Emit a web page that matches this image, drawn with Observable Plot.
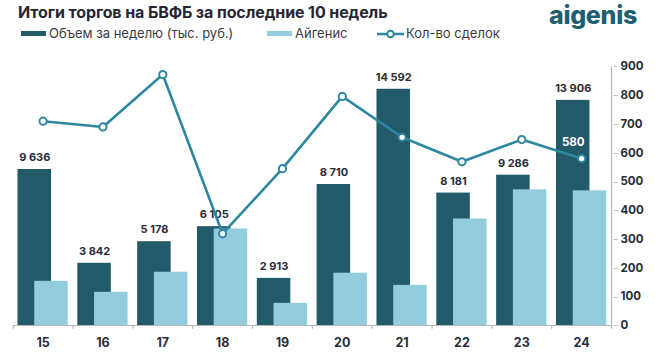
<!DOCTYPE html>
<html>
<head>
<meta charset="utf-8">
<script src="https://cdn.jsdelivr.net/npm/d3@7"></script>
<script src="https://cdn.jsdelivr.net/npm/@observablehq/plot@0.6"></script>
<style>
  html, body { margin: 0; padding: 0; background: #fff; }
  #wrap { position: relative; width: 655px; height: 364px; font-family: Inter, "Open Sans", sans-serif; }
  #head { position: relative; width: 655px; height: 45px; }
  .title { position: absolute; left: 18px; top: 3px; font-size: 16px; font-weight: 700; color: #262633; line-height: 18px; white-space: nowrap; letter-spacing: -0.1px; }
  .logo { position: absolute; left: 549px; top: 1px; font-size: 25px; font-weight: 800; color: #1e5f70; line-height: 28px; letter-spacing: -0.3px; }
  .item { position: absolute; top: 26px; display: flex; align-items: center; font-size: 13px; color: #3a3a44; line-height: 15px; white-space: nowrap; }
  .sw { display: inline-block; width: 25px; height: 5px; margin-right: 3px; }
  #chart { position: absolute; left: 0; top: 45px; }
</style>
</head>
<body>
<div id="wrap">
  <div id="head"></div>
  <div id="chart"></div>
</div>
<script>
const weeks = ["15","16","17","18","19","20","21","22","23","24"];
const volume = [9636, 3842, 5178, 6105, 2913, 8710, 14592, 8181, 9286, 13906];
const aigenis = [2730, 2050, 3290, 5960, 1370, 3230, 2480, 6580, 8380, 8320];
const deals = [710, 690, 872, 319, 545, 796, 654, 569, 646, 580];
const rightTicks = [0, 100, 200, 300, 400, 500, 600, 700, 800, 900];
const title = "Итоги торгов на БВФБ за последние 10 недель";
const seriesNames = ["Объем за неделю (тыс. руб.)", "Айгенис", "Кол-во сделок"];
const logoText = "aigenis";

const cDark = "#225a69", cLight = "#93cddd", cLine = "#2e87a1";
const leftMax = 16000, rightMax = 900;
const k = rightMax / leftMax;

const data = weeks.map((w, i) => ({week: w, vol: volume[i], aig: aigenis[i], deals: deals[i]}));
const lastWeek = weeks[weeks.length - 1];

// header
const head = document.getElementById("head");
head.innerHTML = `
  <div class="title">${title}</div>
  <div class="logo">${logoText}</div>
  <div class="item" style="left:21px"><span class="sw" style="background:${cDark}"></span>${seriesNames[0]}</div>
  <div class="item" style="left:267px"><span class="sw" style="background:${cLight}"></span>${seriesNames[1]}</div>
  <div class="item" style="left:377px"><svg width="27" height="10" style="margin-right:2px"><line x1="0" y1="5" x2="27" y2="5" stroke="${cLine}" stroke-width="2.5"/><circle cx="13.5" cy="5" r="3.3" fill="#fff" stroke="${cLine}" stroke-width="2"/></svg>${seriesNames[2]}</div>`;

const W = 655, H = 319;
const mL = 12.7, mR = 44, mT = 21, mB = 39;
const step = (W - mL - mR) / weeks.length;
const off = step * 0.14;
const fmt = v => d3.format(",")(v).replace(/,/g, " ");

const chart = Plot.plot({
  width: W, height: H,
  marginLeft: mL, marginRight: mR, marginTop: mT, marginBottom: mB,
  style: {fontFamily: "Inter, 'Open Sans', sans-serif", overflow: "visible"},
  x: {domain: weeks, paddingInner: 0.44, paddingOuter: 0.22, round: false, axis: null},
  y: {domain: [0, rightMax], axis: null},
  marks: [
    Plot.barY(data, {x: "week", y: d => d.vol * k, fill: cDark, dx: -off}),
    Plot.barY(data, {x: "week", y: d => d.aig * k, fill: cLight, dx: off}),
    Plot.ruleY([0], {stroke: "#b5b5b5", strokeWidth: 1.2}),
    Plot.link(weeks, {x1: d => d, x2: d => d, dx: -step / 2, y1: () => 0, y2: () => -11, stroke: "#b5b5b5", strokeWidth: 1.2}),
    Plot.link([lastWeek], {x1: d => d, x2: d => d, dx: step / 2, y1: () => -11, y2: () => rightMax, stroke: "#b5b5b5", strokeWidth: 1.2}),
    Plot.text(rightTicks, {y: d => d, x: () => lastWeek, dx: step / 2 + 2, text: () => "–", fontSize: 9, fill: "#b5b5b5", textAnchor: "start"}),
    Plot.text(rightTicks, {y: d => d, x: () => lastWeek, dx: step / 2 + 9, text: d => String(d), textAnchor: "start", fontSize: 11.5, fontWeight: 700, fill: "#2b2b38"}),
    Plot.text(data, {x: "week", y: () => 0, dy: 17, text: "week", fontSize: 12.5, fontWeight: 700, fill: "#2b2b38"}),
    Plot.text(data, {x: "week", y: d => d.vol * k, dx: -off, dy: -12, text: d => fmt(d.vol), fontSize: 11, fontWeight: 700, fill: "#2b2b38"}),
    Plot.line(data, {x: "week", y: "deals", stroke: cLine, strokeWidth: 2.6}),
    Plot.dot(data, {x: "week", y: "deals", r: 3.6, fill: "#fff", stroke: cLine, strokeWidth: 2}),
    Plot.text(data.slice(-1), {x: "week", y: "deals", dx: -off, dy: -16, text: d => String(d.deals), fontSize: 11.5, fontWeight: 700, fill: "#fff"})
  ]
});
document.getElementById("chart").appendChild(chart);
</script>
</body>
</html>
